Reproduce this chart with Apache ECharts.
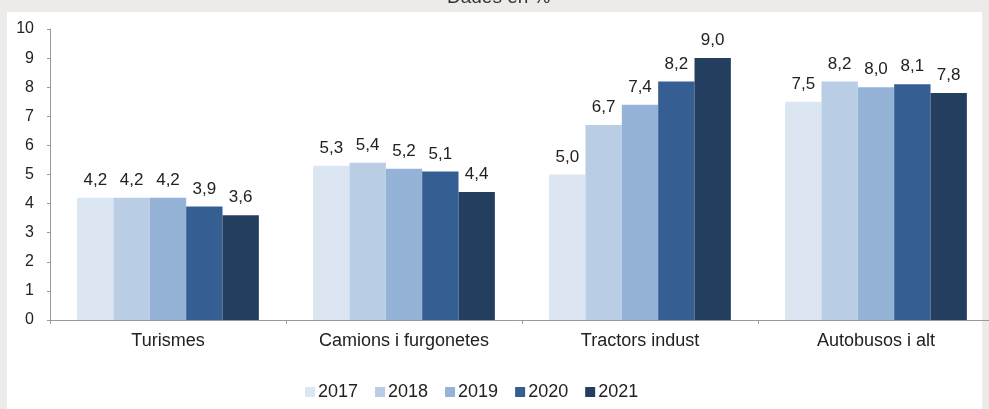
<!DOCTYPE html>
<html>
<head>
<meta charset="utf-8">
<script src="https://cdn.jsdelivr.net/npm/echarts@6/dist/echarts.min.js"></script>
<style>
  html, body { margin: 0; padding: 0; background: #ecebe9; }
  #chart { width: 989px; height: 409px; }
</style>
</head>
<body>
<div id="chart"></div>
<script>
// categories and series
const categories = ['Turismes', 'Camions i furgonetes', 'Tractors indust', 'Autobusos i alt']
const years = ['2017', '2018', '2019', '2020', '2021']
const values2017 = [4.2, 5.3, 5.0, 7.5]
const values2018 = [4.2, 5.4, 6.7, 8.2]
const values2019 = [4.2, 5.2, 7.4, 8.0]
const values2020 = [3.9, 5.1, 8.2, 8.1]
const values2021 = [3.6, 4.4, 9.0, 7.8]
const colors = ['#dce6f2', '#b9cde5', '#95b3d7', '#355f93', '#243e5f']

const seriesValues = [values2017, values2018, values2019, values2020, values2021]

const chart = echarts.init(document.getElementById('chart'))

chart.setOption({
  backgroundColor: '#ecebe9',
  textStyle: { fontFamily: 'Liberation Sans, Arial, sans-serif' },
  graphic: [
    {
      type: 'rect',
      left: 7, top: 12,
      shape: { width: 975, height: 400 },
      style: { fill: '#ffffff' },
      z: -10
    },
    {
      type: 'text',
      left: 447, top: -12,
      style: { text: 'Dades en %', fill: '#333', font: '19px Liberation Sans, Arial, sans-serif' }
    }
  ],
  legend: {
    data: years,
    left: 300,
    top: 378,
    itemWidth: 10,
    itemHeight: 10,
    itemGap: 17,
    icon: 'rect',
    textStyle: { fontSize: 18, color: '#222', padding: [0, 0, 0, -2] }
  },
  grid: {
    left: 50,
    top: 29,
    width: 944,
    height: 291,
    outerBoundsMode: 'none'
  },
  xAxis: {
    type: 'category',
    data: categories,
    axisLine: { lineStyle: { color: '#999' } },
    axisTick: { show: true, length: 4, lineStyle: { color: '#999' } },
    axisLabel: { fontSize: 18, color: '#222', margin: 12 }
  },
  yAxis: {
    type: 'value',
    min: 0,
    max: 10,
    interval: 1,
    axisLine: { show: true, lineStyle: { color: '#999' } },
    axisTick: { show: true, length: 3, lineStyle: { color: '#999' } },
    splitLine: { show: false },
    axisLabel: { fontSize: 16, color: '#222', margin: 16 }
  },
  series: years.map((year, i) => ({
    name: year,
    type: 'bar',
    data: seriesValues[i],
    barGap: '0%',
    barCategoryGap: '23%',
    itemStyle: { color: colors[i] },
    label: {
      show: true,
      position: 'top',
      distance: 9,
      fontSize: 17,
      color: '#222',
      formatter: p => p.value.toFixed(1).replace('.', ',')
    }
  }))
})
</script>
</body>
</html>
